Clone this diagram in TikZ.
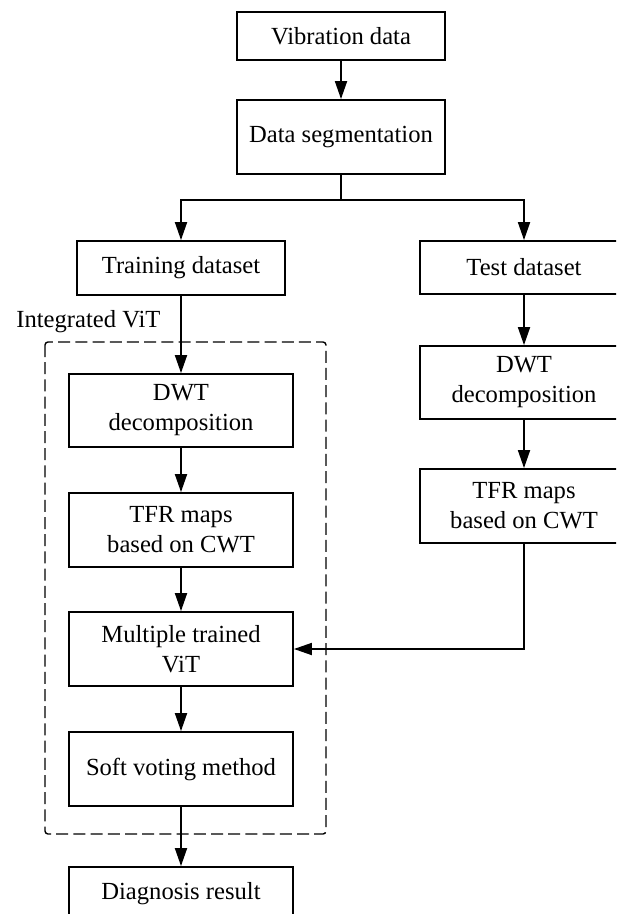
\documentclass[tikz,border=0pt]{standalone}
\usepackage{fontspec}
\setmainfont{Liberation Serif}
\usetikzlibrary{arrows.meta}
\begin{document}
\begin{tikzpicture}[x=0.5pt,y=-0.5pt,
  every node/.style={font=\fontsize{12.3}{15}\selectfont},
  box/.style={draw, line width=0.9pt, rectangle, align=center, inner sep=0pt},
  narrowbox/.style={box, minimum width=104pt},
  widebox/.style={box, minimum width=112pt},
  arr/.style={line width=0.9pt, -{Triangle[length=9pt,width=6pt]}},
  plain/.style={line width=0.9pt},
  group/.style={draw, dashed, line width=0.7pt, dash pattern=on 6pt off 2.6pt, rounded corners=1.5pt}]
\useasboundingbox (0,0) rectangle (616,914);
\clip (0,0) rectangle (616,914);

% main trunk
\node[narrowbox, minimum height=24pt] (vib) at (341,36) {Vibration data};
\node[narrowbox, minimum height=37pt] (seg) at (341,137) {Data segmentation};

% training branch
\node[narrowbox, minimum height=27pt] (train) at (181,268) {Training dataset};
\node[widebox, minimum height=36.5pt] (dwtL) at (181,410.5) {DWT\\decomposition};
\node[widebox, minimum height=37pt] (tfrL) at (181,530) {TFR maps\\based on CWT};
\node[widebox, minimum height=37pt] (multi) at (181,649) {Multiple trained\\ViT};
\node[widebox, minimum height=37pt] (soft) at (181,769) {Soft voting method};
\node[widebox, minimum height=27pt] (diag) at (181,894) {Diagnosis result};

% test branch
\node[narrowbox, minimum height=26.5pt] (test) at (524,267.5) {Test dataset};
\node[narrowbox, minimum height=36.5pt] (dwtR) at (524,382.5) {DWT\\decomposition};
\node[narrowbox, minimum height=37pt] (tfrR) at (524,506) {TFR maps\\based on CWT};

% ensemble frame
\draw[group] (45,342) rectangle (326,834);
\node[anchor=base west, inner sep=0pt] (ivit) at (16,328) {Integrated ViT};

% connectors
\coordinate (split) at (341,200);
\draw[arr] (vib) -- (seg);
\draw[plain] (seg.south) -- (split);
\draw[arr] (split) -| (train.north);
\draw[arr] (split) -| (test.north);
\draw[arr] (train) -- (dwtL);
\draw[arr] (dwtL) -- (tfrL);
\draw[arr] (tfrL) -- (multi);
\draw[arr] (multi) -- (soft);
\draw[arr] (soft) -- (diag);
\draw[arr] (test) -- (dwtR);
\draw[arr] (dwtR) -- (tfrR);
\draw[arr] (tfrR.south) |- (multi.east);
\end{tikzpicture}
\end{document}
